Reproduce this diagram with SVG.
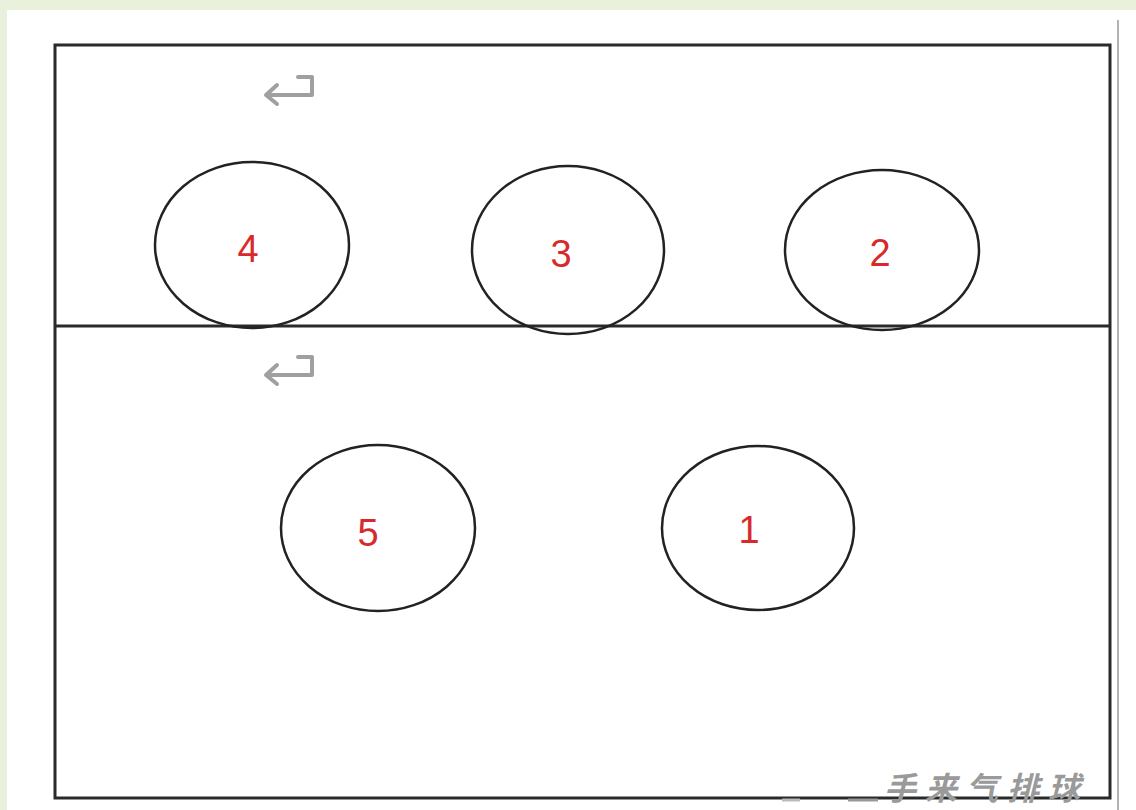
<svg xmlns="http://www.w3.org/2000/svg" width="1136" height="810" viewBox="0 0 1136 810">
<style>
.c{fill:none;stroke:#222;stroke-width:2.5}
.n{font-family:"Liberation Sans",Arial,sans-serif;font-size:38px;fill:#d82a2a;text-anchor:middle}
.ret{fill:none;stroke:#a0a0a0;stroke-width:4;stroke-linecap:round;stroke-linejoin:round}
.w{font-family:"Noto Sans CJK SC",sans-serif;font-size:32px;font-weight:bold;fill:#9a9a9a;font-style:italic;letter-spacing:9px}
</style>
<rect x="0" y="0" width="1136" height="810" fill="#e9f0dc"/>
<rect x="7" y="10" width="1129" height="800" fill="#ffffff"/>
<line x1="1118" y1="20" x2="1118" y2="810" stroke="#999" stroke-width="1.5"/>
<rect x="55" y="45" width="1055" height="753" fill="none" stroke="#2a2a2a" stroke-width="3"/>
<line x1="55" y1="326" x2="1110" y2="326" stroke="#2a2a2a" stroke-width="3"/>
<path class="ret" d="M298 77 H312 V95 H267 M277 85 L266 95 L277 104"/>
<path class="ret" d="M298 357 H312 V375 H267 M277 365 L266 375 L277 384"/>
<g id="p4"><ellipse class="c" cx="252" cy="245" rx="97" ry="83"/><text class="n" x="248" y="262">4</text></g>
<g id="p3"><ellipse class="c" cx="568" cy="250" rx="96" ry="84"/><text class="n" x="561" y="267">3</text></g>
<g id="p2"><ellipse class="c" cx="882" cy="250" rx="97" ry="80"/><text class="n" x="880" y="266">2</text></g>
<g id="p5"><ellipse class="c" cx="378" cy="528" rx="97" ry="83"/><text class="n" x="368" y="546">5</text></g>
<g id="p1"><ellipse class="c" cx="758" cy="528" rx="96" ry="82"/><text class="n" x="749" y="543">1</text></g>
<g id="connectors"></g>
<line x1="782" y1="800" x2="800" y2="800" stroke="#bbb" stroke-width="3"/>
<line x1="848" y1="800" x2="878" y2="800" stroke="#999" stroke-width="3"/>
<text class="w" x="884" y="800">手来气排球</text>
</svg>
